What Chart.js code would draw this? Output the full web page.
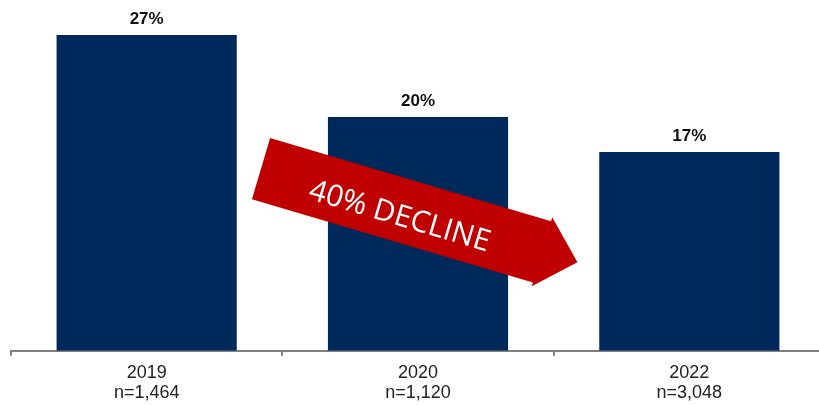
<!DOCTYPE html>
<html>
<head>
<meta charset="utf-8">
<script src="https://cdn.jsdelivr.net/npm/chart.js@4/dist/chart.umd.min.js"></script>
<style>
  html, body { margin: 0; padding: 0; background: #fff; overflow: hidden; }
  #wrap { position: absolute; left: 0; top: 0; width: 826px; height: 405px; }
</style>
</head>
<body>
<div id="wrap"><canvas id="decline"></canvas></div>
<script>
var years = ['2019', '2020', '2022'];
var sampleSizes = ['n=1,464', 'n=1,120', 'n=3,048'];
var shares = [27, 20, 17];
var arrowText = '40% DECLINE';

var labels = years.map(function(y, i) { return [y, sampleSizes[i]]; });

// percent labels above bars
var valueLabels = {
  id: 'valueLabels',
  afterDatasetsDraw: function(chart) {
    var ctx = chart.ctx;
    var meta = chart.getDatasetMeta(0);
    ctx.save();
    ctx.font = "bold 17px 'Liberation Sans', Arial, sans-serif";
    ctx.fillStyle = '#111';
    ctx.textAlign = 'center';
    ctx.textBaseline = 'middle';
    meta.data.forEach(function(bar, i) {
      ctx.fillText(shares[i] + '%', bar.x, bar.y - 16);
    });
    ctx.restore();
  }
};

// red "decline" arrow across the bars
var declineArrow = {
  id: 'declineArrow',
  afterDraw: function(chart) {
    var ctx = chart.ctx,
        xs = chart.scales.x,
        ys = chart.scales.y;
    var x0 = xs.getPixelForValue(0),
        x1 = xs.getPixelForValue(1);
    var startX = x0 + 0.455 * (x1 - x0),
        startY = ys.getPixelForValue(18.2);
    var shaft = 293, head = 37, w = 64;

    ctx.save();
    ctx.translate(startX, startY);
    ctx.rotate(16.5 * Math.PI / 180);
    ctx.beginPath();
    ctx.moveTo(0, 0);
    ctx.lineTo(shaft, 0);
    ctx.lineTo(shaft, -4);
    ctx.lineTo(shaft + head, w / 2);
    ctx.lineTo(shaft, w + 4);
    ctx.lineTo(shaft, w);
    ctx.lineTo(0, w);
    ctx.closePath();
    ctx.fillStyle = '#C00000';
    ctx.fill();

    ctx.font = "30px 'Open Sans', sans-serif";
    ctx.fillStyle = '#fff';
    ctx.textAlign = 'center';
    ctx.textBaseline = 'middle';
    ctx.fillText(arrowText, shaft / 2, w / 2 + 7);
    ctx.restore();
  }
};

var ctx = document.getElementById('decline').getContext('2d');
var chart = new Chart(ctx, {
  type: 'bar',
  plugins: [valueLabels, declineArrow],
  data: {
    labels: labels,
    datasets: [{
      data: shares,
      backgroundColor: '#00295B',
      borderWidth: 0,
      categoryPercentage: 1,
      barPercentage: 0.664
    }]
  },
  options: {
    responsive: true,
    maintainAspectRatio: false,
    animation: false,
    events: [],
    layout: { padding: { left: 11, right: 1, top: 0, bottom: -5 } },
    plugins: {
      legend: { display: false },
      tooltip: { enabled: false }
    },
    scales: {
      y: {
        display: false,
        min: 0,
        max: 30
      },
      x: {
        grid: {
          display: true,
          drawOnChartArea: false,
          drawTicks: true,
          tickLength: 5,
          color: '#808080',
          lineWidth: 2,
          offset: true
        },
        border: { display: true, color: '#808080', width: 2 },
        ticks: {
          color: '#222',
          padding: 7,
          maxRotation: 0,
          font: { family: "'Liberation Sans', Arial, sans-serif", size: 18, lineHeight: 1.12 }
        }
      }
    }
  }
});
</script>
</body>
</html>
